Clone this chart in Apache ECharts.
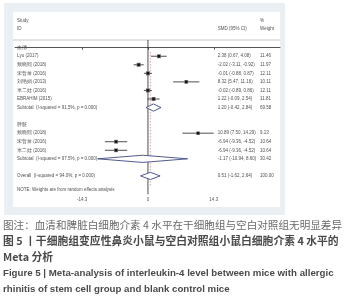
<!DOCTYPE html>
<html><head><meta charset="utf-8">
<script src="https://cdn.jsdelivr.net/npm/echarts@6/dist/echarts.min.js"></script>
<style>html,body{margin:0;padding:0;background:#fff}#c{width:355px;height:300px}</style>
</head><body><div id="c"></div>
<script>
// ---- data ----
const studyIds = ['Lyu (2017)', '戴晓熙 (2018)', '宋哲蕾 (2016)', '刘艳娟 (2013)', '米二娃 (2016)', 'EBRAHIM (2015)', '戴晓熙 (2018)', '宋哲蕾 (2016)', '米二娃 (2016)'];
const studySmd = [2.38, -2.02, -0.01, 8.32, -0.02, 1.22, 10.89, -6.94, -6.94];
const studyLow = [0.67, -3.11, -0.88, 5.47, -0.89, -0.09, 7.50, -9.36, -9.36];
const studyHigh = [4.08, -0.92, 0.87, 11.16, 0.86, 2.54, 14.29, -4.52, -4.52];
const studyWeight = [11.46, 11.97, 12.11, 10.11, 12.11, 11.81, 9.13, 10.64, 10.64];
const studyRow = [1, 2, 3, 4, 5, 6, 10, 11, 12];

const groupNames = ['血清', '脾脏'];
const groupRow = [0, 9];

const pooledLabels = ['Subtotal  (I-squared = 91.5%, p = 0.000)', 'Subtotal  (I-squared = 97.5%, p = 0.000)', 'Overall  (I-squared = 94.0%, p = 0.000)'];
const pooledSmd = [1.20, -1.17, 0.51];
const pooledLow = [-0.42, -10.94, -1.62];
const pooledHigh = [2.84, 8.60, 2.64];
const pooledWeight = [69.58, 30.42, 100.00];
const pooledRow = [7, 13, 15];

const tickValues = [-14.3, 0, 14.3];
const tickLabels = ['-14.3', '0', '14.3'];

// ---- layout ----
const X_MIN = -28.9, X_MAX = 28.7;
const COL_ID = -28.45, COL_SMD = 15.15, COL_W = 24.35;
const SMALL = '4.5px "Liberation Sans", Arial, sans-serif';
const TXT = '#505050';

const fmt = (e, l, h) => e.toFixed(2) + ' (' + l.toFixed(2) + ', ' + h.toFixed(2) + ')';

const textRows = [];
groupNames.forEach((g, i) => textRows.push([COL_ID, groupRow[i], g]));
studyIds.forEach((s, i) => {
  textRows.push([COL_ID, studyRow[i], s]);
  textRows.push([COL_SMD, studyRow[i], fmt(studySmd[i], studyLow[i], studyHigh[i])]);
  textRows.push([COL_W, studyRow[i], studyWeight[i].toFixed(2)]);
});
pooledLabels.forEach((s, i) => {
  textRows.push([COL_ID, pooledRow[i], s]);
  textRows.push([COL_SMD, pooledRow[i], fmt(pooledSmd[i], pooledLow[i], pooledHigh[i])]);
  textRows.push([COL_W, pooledRow[i], pooledWeight[i].toFixed(2)]);
});

const studyData = studySmd.map((v, i) => [v, studyRow[i], studyLow[i], studyHigh[i], studyWeight[i]]);
const pooledData = pooledSmd.map((v, i) => [v, pooledRow[i], pooledLow[i], pooledHigh[i]]);

const chart = echarts.init(document.getElementById('c'), null, {renderer: 'canvas'});

const option = {
  animation: false,
  backgroundColor: '#ffffff',
  grid: {left: 15, width: 265, top: 40, height: 154.3},
  xAxis: {
    type: 'value', min: X_MIN, max: X_MAX,
    splitLine: {show: false},
    axisLine: {show: true, lineStyle: {color: '#555', width: 1}},
    axisTick: {show: true, customValues: tickValues, length: 2, lineStyle: {color: '#555'}},
    axisLabel: {show: true, customValues: tickValues, fontSize: 4.5, color: '#555', margin: 3,
      fontFamily: '"Liberation Sans", Arial, sans-serif',
      formatter: v => tickLabels[tickValues.indexOf(v)] ?? ''}
  },
  yAxis: {type: 'value', inverse: true, min: -0.9, max: 17.15, show: false},
  graphic: [
    {type: 'rect', z: 0, shape: {x: 4, y: 3, width: 281, height: 212}, style: {fill: '#e9eff2'}},
    {type: 'rect', z: 0, shape: {x: 13, y: 12, width: 267, height: 195}, style: {fill: '#ffffff'}},
    {type: 'line', z: 1, shape: {x1: 13, y1: 40, x2: 280, y2: 40}, style: {stroke: '#c8c8c8', lineWidth: 1}},
    {type: 'text', z: 10, x: 17, y: 21, style: {text: 'Study', font: SMALL, fill: TXT, verticalAlign: 'middle'}},
    {type: 'text', z: 10, x: 17, y: 29, style: {text: 'ID', font: SMALL, fill: TXT, verticalAlign: 'middle'}},
    {type: 'text', z: 10, x: 260, y: 21, style: {text: '%', font: SMALL, fill: TXT, verticalAlign: 'middle'}},
    {type: 'text', z: 10, x: 217.7, y: 29, style: {text: 'SMD (95% CI)', font: SMALL, fill: TXT, verticalAlign: 'middle'}},
    {type: 'text', z: 10, x: 260, y: 29, style: {text: 'Weight', font: SMALL, fill: TXT, verticalAlign: 'middle'}},
    {type: 'text', z: 10, x: 17, y: 190, style: {text: 'NOTE: Weights are from random effects analysis', font: SMALL, fill: TXT, verticalAlign: 'middle'}},
    {type: 'text', z: 10, x: 3, y: 225, style: {text: '图注：血清和脾脏白细胞介素 4 水平在干细胞组与空白对照组无明显差异', font: '10.6px "Noto Sans CJK SC"', fill: '#6a6a6a', verticalAlign: 'middle'}},
    {type: 'text', z: 10, x: 3, y: 241, style: {text: '图 5 丨干细胞组变应性鼻炎小鼠与空白对照组小鼠白细胞介素 4 水平的', font: 'bold 10.8px "Noto Sans CJK SC"', fill: '#4a4a4a', verticalAlign: 'middle'}},
    {type: 'text', z: 10, x: 3, y: 257, style: {text: 'Meta 分析', font: 'bold 10.8px "Noto Sans CJK SC"', fill: '#4a4a4a', verticalAlign: 'middle'}},
    {type: 'text', z: 10, x: 3, y: 273, style: {text: 'Figure 5 | Meta-analysis of interleukin-4 level between mice with allergic', font: 'bold 9.7px "Liberation Sans"', fill: '#4a4a4a', verticalAlign: 'middle'}},
    {type: 'text', z: 10, x: 3, y: 289, style: {text: 'rhinitis of stem cell group and blank control mice', font: 'bold 9.7px "Liberation Sans"', fill: '#4a4a4a', verticalAlign: 'middle'}}
  ],
  series: [
    { // reference lines
      type: 'custom', z: 3, clip: false,
      data: [[0]],
      renderItem: (params, api) => {
        const a = api.coord([0, -0.9]), b = api.coord([0, 17.15]);
        const c = api.coord([pooledSmd[2], 0.5]), d = api.coord([pooledSmd[2], 16.2]);
        return {type: 'group', children: [
          {type: 'line', shape: {x1: a[0], y1: a[1], x2: b[0], y2: b[1]}, style: {stroke: '#222', lineWidth: 0.8}},
          {type: 'line', shape: {x1: c[0], y1: c[1], x2: d[0], y2: d[1]}, style: {stroke: '#b56a6a', lineWidth: 0.6, lineDash: [1.5, 1.5]}}
        ]};
      }
    },
    { // studies
      type: 'custom', z: 4, clip: false,
      data: studyData,
      renderItem: (params, api) => {
        const p = api.coord([api.value(0), api.value(1)]);
        const l = api.coord([api.value(2), api.value(1)]);
        const h = api.coord([api.value(3), api.value(1)]);
        const s = Math.sqrt(api.value(4)) * 1.15;
        return {type: 'group', children: [
          {type: 'line', shape: {x1: l[0], y1: l[1], x2: h[0], y2: h[1]}, style: {stroke: '#222', lineWidth: 0.8}},
          {type: 'rect', shape: {x: p[0] - s / 2, y: p[1] - s / 2, width: s, height: s}, style: {fill: '#6a6a6a'}},
          {type: 'rect', shape: {x: p[0] - 1.2, y: p[1] - 1.2, width: 2.4, height: 2.4}, style: {fill: '#111'}}
        ]};
      }
    },
    { // diamonds
      type: 'custom', z: 4, clip: false,
      data: pooledData,
      renderItem: (params, api) => {
        const y = api.value(1);
        const e = api.coord([api.value(0), y]);
        const l = api.coord([api.value(2), y]);
        const h = api.coord([api.value(3), y]);
        const hh = 3.6;
        return {type: 'polygon', shape: {points: [[l[0], e[1]], [e[0], e[1] - hh], [h[0], e[1]], [e[0], e[1] + hh]]},
          style: {fill: '#ffffff', stroke: '#3d4a82', lineWidth: 0.9}};
      }
    },
    { // row texts
      type: 'custom', z: 5, clip: false,
      data: textRows,
      renderItem: (params, api) => {
        const p = api.coord([api.value(0), api.value(1)]);
        return {type: 'text', x: p[0], y: p[1], style: {text: textRows[params.dataIndex][2], font: SMALL, fill: TXT, align: 'left', verticalAlign: 'middle'}};
      }
    }
  ]
};
chart.setOption(option);
</script>
</body></html>
